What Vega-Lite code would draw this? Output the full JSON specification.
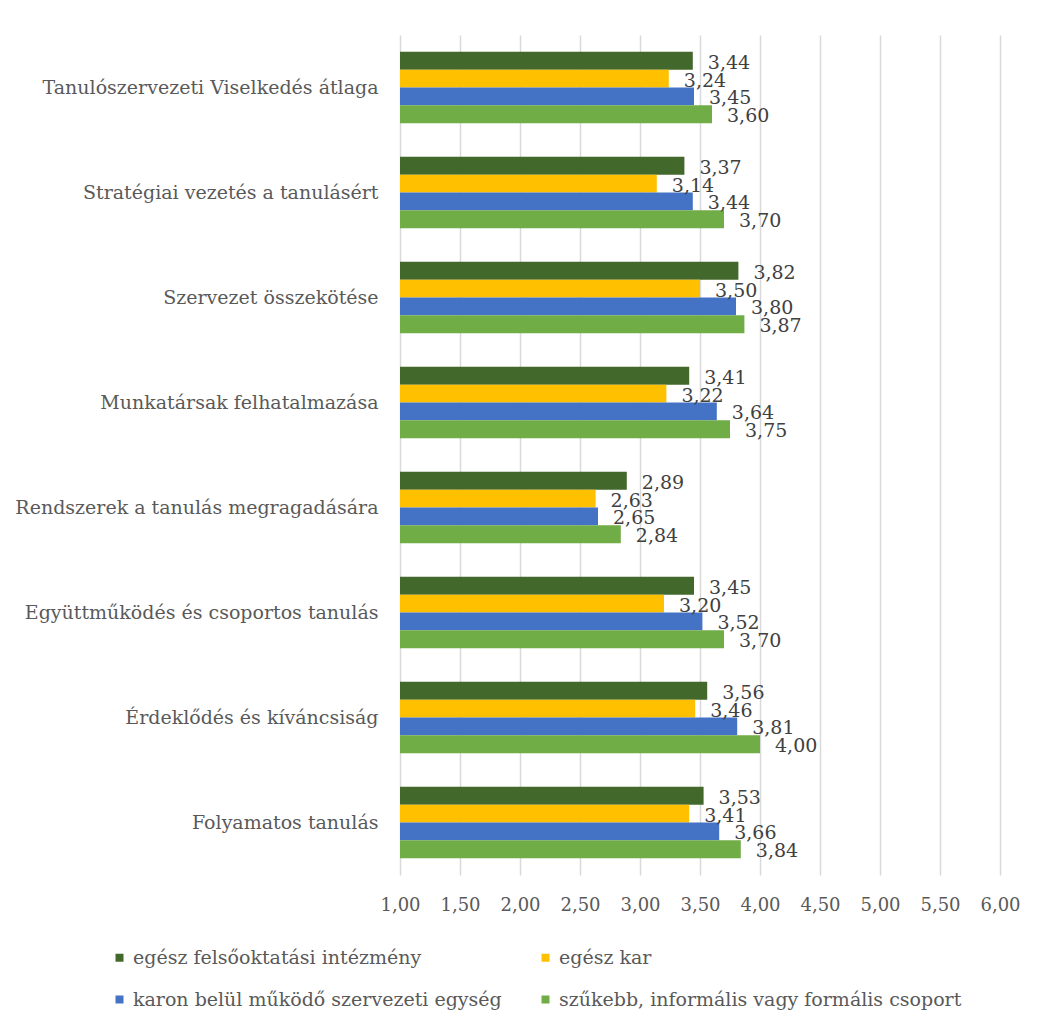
{
  "$schema": "https://vega.github.io/schema/vega-lite/v6.json",
  "autosize": {"type": "none"},
  "width": 600,
  "height": 840,
  "padding": {"left": 400, "top": 35, "right": 40, "bottom": 151},
  "background": "white",
  "config": {
    "locale": {"number": {"decimal": ",", "thousands": " ", "grouping": [3], "currency": ["", " Ft"]}},
    "font": "DejaVu Serif",
    "view": {"stroke": null}
  },
  "data": {
    "values": [
      {"cat": "Tanulószervezeti Viselkedés átlaga", "series": "egész felsőoktatási intézmény", "v": 3.44},
      {"cat": "Tanulószervezeti Viselkedés átlaga", "series": "egész kar", "v": 3.24},
      {"cat": "Tanulószervezeti Viselkedés átlaga", "series": "karon belül működő szervezeti egység", "v": 3.45},
      {"cat": "Tanulószervezeti Viselkedés átlaga", "series": "szűkebb, informális vagy formális csoport", "v": 3.60},
      {"cat": "Stratégiai vezetés a tanulásért", "series": "egész felsőoktatási intézmény", "v": 3.37},
      {"cat": "Stratégiai vezetés a tanulásért", "series": "egész kar", "v": 3.14},
      {"cat": "Stratégiai vezetés a tanulásért", "series": "karon belül működő szervezeti egység", "v": 3.44},
      {"cat": "Stratégiai vezetés a tanulásért", "series": "szűkebb, informális vagy formális csoport", "v": 3.70},
      {"cat": "Szervezet összekötése", "series": "egész felsőoktatási intézmény", "v": 3.82},
      {"cat": "Szervezet összekötése", "series": "egész kar", "v": 3.50},
      {"cat": "Szervezet összekötése", "series": "karon belül működő szervezeti egység", "v": 3.80},
      {"cat": "Szervezet összekötése", "series": "szűkebb, informális vagy formális csoport", "v": 3.87},
      {"cat": "Munkatársak felhatalmazása", "series": "egész felsőoktatási intézmény", "v": 3.41},
      {"cat": "Munkatársak felhatalmazása", "series": "egész kar", "v": 3.22},
      {"cat": "Munkatársak felhatalmazása", "series": "karon belül működő szervezeti egység", "v": 3.64},
      {"cat": "Munkatársak felhatalmazása", "series": "szűkebb, informális vagy formális csoport", "v": 3.75},
      {"cat": "Rendszerek a tanulás megragadására", "series": "egész felsőoktatási intézmény", "v": 2.89},
      {"cat": "Rendszerek a tanulás megragadására", "series": "egész kar", "v": 2.63},
      {"cat": "Rendszerek a tanulás megragadására", "series": "karon belül működő szervezeti egység", "v": 2.65},
      {"cat": "Rendszerek a tanulás megragadására", "series": "szűkebb, informális vagy formális csoport", "v": 2.84},
      {"cat": "Együttműködés és csoportos tanulás", "series": "egész felsőoktatási intézmény", "v": 3.45},
      {"cat": "Együttműködés és csoportos tanulás", "series": "egész kar", "v": 3.20},
      {"cat": "Együttműködés és csoportos tanulás", "series": "karon belül működő szervezeti egység", "v": 3.52},
      {"cat": "Együttműködés és csoportos tanulás", "series": "szűkebb, informális vagy formális csoport", "v": 3.70},
      {"cat": "Érdeklődés és kíváncsiság", "series": "egész felsőoktatási intézmény", "v": 3.56},
      {"cat": "Érdeklődés és kíváncsiság", "series": "egész kar", "v": 3.46},
      {"cat": "Érdeklődés és kíváncsiság", "series": "karon belül működő szervezeti egység", "v": 3.81},
      {"cat": "Érdeklődés és kíváncsiság", "series": "szűkebb, informális vagy formális csoport", "v": 4.00},
      {"cat": "Folyamatos tanulás", "series": "egész felsőoktatási intézmény", "v": 3.53},
      {"cat": "Folyamatos tanulás", "series": "egész kar", "v": 3.41},
      {"cat": "Folyamatos tanulás", "series": "karon belül működő szervezeti egység", "v": 3.66},
      {"cat": "Folyamatos tanulás", "series": "szűkebb, informális vagy formális csoport", "v": 3.84}
    ]
  },
  "encoding": {
    "y": {
      "field": "cat",
      "type": "nominal",
      "sort": null,
      "scale": {"paddingInner": 0.32, "paddingOuter": 0.16},
      "axis": {
        "title": null,
        "ticks": false,
        "domain": false,
        "labelFontSize": 19,
        "labelColor": "#595959",
        "labelPadding": 22,
        "labelLimit": 400
      }
    },
    "yOffset": {
      "field": "series",
      "type": "nominal",
      "sort": ["egész felsőoktatási intézmény", "egész kar", "karon belül működő szervezeti egység", "szűkebb, informális vagy formális csoport"],
      "scale": {"paddingInner": 0, "paddingOuter": 0}
    },
    "x": {
      "field": "v",
      "type": "quantitative",
      "scale": {"domain": [1, 6], "nice": false, "zero": false},
      "axis": {
        "title": null,
        "values": [1, 1.5, 2, 2.5, 3, 3.5, 4, 4.5, 5, 5.5, 6],
        "format": ".2f",
        "ticks": false,
        "domain": false,
        "grid": true,
        "gridColor": "#D9D9D9",
        "gridWidth": 1.5,
        "labelFontSize": 18,
        "labelColor": "#595959",
        "labelPadding": 21,
        "labelFlush": false
      }
    }
  },
  "layer": [
    {
      "mark": {"type": "bar"},
      "encoding": {
        "x2": {"datum": 1},
        "color": {
          "field": "series",
          "type": "nominal",
          "sort": ["egész felsőoktatási intézmény", "egész kar", "karon belül működő szervezeti egység", "szűkebb, informális vagy formális csoport"],
          "scale": {"range": ["#43682B", "#FFC000", "#4472C4", "#70AD47"]},
          "legend": {
            "title": null,
            "orient": "none",
            "legendX": -290,
            "legendY": 913,
            "columns": 2,
            "direction": "horizontal",
            "columnPadding": 34,
            "rowPadding": 22,
            "symbolType": "square",
            "symbolSize": 64,
            "symbolStrokeWidth": 0,
            "labelFontSize": 19,
            "labelColor": "#595959",
            "labelOffset": 4,
            "labelLimit": 500,
            "padding": 0
          }
        }
      }
    },
    {
      "mark": {"type": "text", "align": "left", "baseline": "middle", "dx": 15, "dy": 2, "fontSize": 19, "color": "#404040"},
      "encoding": {
        "text": {"field": "v", "type": "quantitative", "format": ".2f"}
      }
    }
  ]
}
